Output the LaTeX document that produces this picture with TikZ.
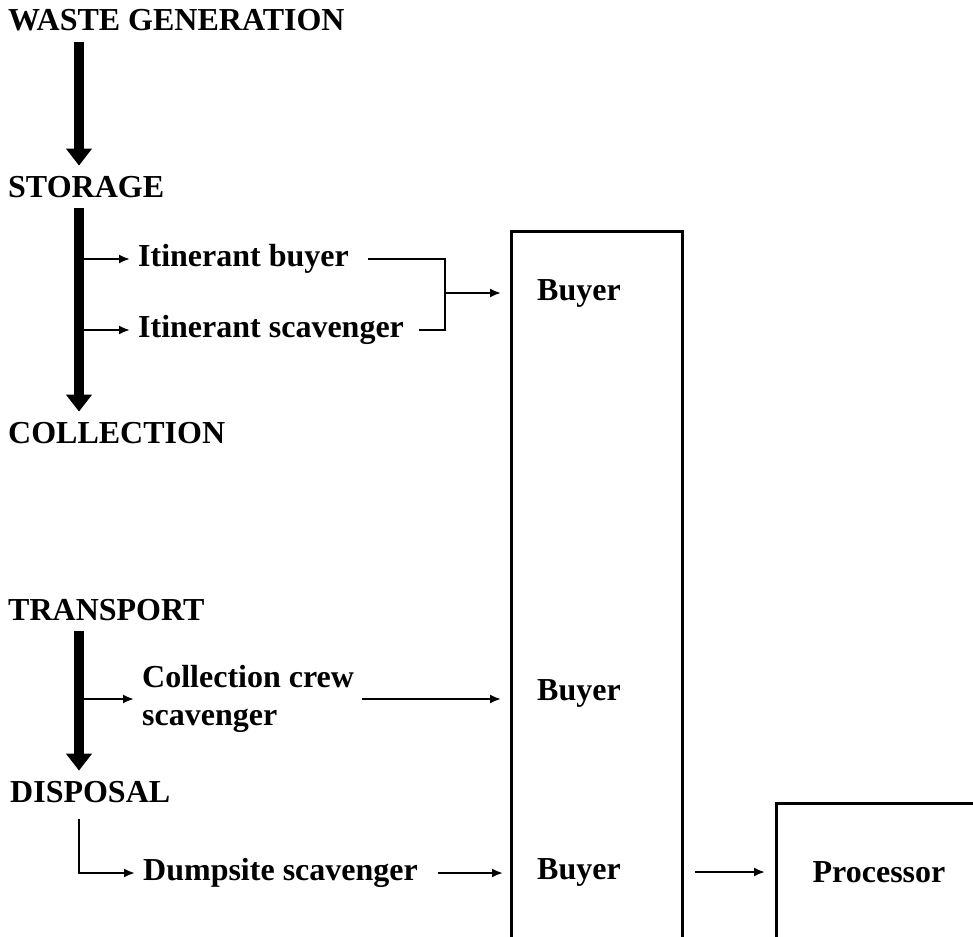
\documentclass[tikz,border=0pt]{standalone}
\usepackage{fontspec}
\setmainfont{Liberation Serif}
\usetikzlibrary{arrows.meta}

\begin{document}
\begin{tikzpicture}[x=1pt,y=-1pt,
  font=\fontsize{32}{38}\selectfont\bfseries,
  stage/.style={anchor=base west,inner xsep=0pt,inner ysep=10pt},
  actor/.style={anchor=west,inner sep=8pt,align=left},
  trunk/.style={line width=10.5pt,-{Triangle[length=17pt,width=25pt]}},
  feed/.style={line width=2pt,-{Latex[length=11pt,width=9pt]}},
  tie/.style={line width=2pt},
  pile/.style={draw,line width=2.6pt,inner sep=0pt,anchor=north west}]
  \clip (0,0) rectangle (973,936);
  \coordinate (spine) at (79,0);
  \node[stage] (gen) at (8,31) {WASTE GENERATION};
  \node[stage] (store) at (8,197) {STORAGE};
  \node[stage] (coll) at (8,443) {COLLECTION};
  \node[stage] (trans) at (8,620) {TRANSPORT};
  \node[stage] (disp) at (10,802) {DISPOSAL};
  \node[actor] (ib) at (130,259) {Itinerant buyer};
  \node[actor] (is) at (130,330) {Itinerant scavenger};
  \node[actor] (crew) at (134,699) {Collection crew\\scavenger};
  \node[actor] (dump) at (135,873) {Dumpsite scavenger};
  \node[pile,minimum width=171pt,minimum height=760pt] (pile) at (510,230) {};
  \node[pile,minimum width=260pt,minimum height=200pt] (proc) at (775,802) {};
  \node (buy1) at (579,293) {Buyer};
  \node (buy2) at (579,693) {Buyer};
  \node (buy3) at (579,872) {Buyer};
  \node (procname) at (879,872) {Processor};
  \draw[feed] (ib.west -| spine) -- (ib.west);
  \draw[feed] (is.west -| spine) -- (is.west);
  \draw[feed] (crew.west -| spine) -- (crew.west);
  \draw[feed,shorten <=6pt] (disp.south -| spine) |- (dump.west);
  \draw[trunk] (gen.south -| spine) -- (store.north -| spine);
  \draw[trunk] (store.south -| spine) -- (coll.north -| spine);
  \draw[trunk] (trans.south -| spine) -- (disp.north -| spine);
  \coordinate (join) at (445,293);
  \draw[tie] ([xshift=11pt]ib.east) -| (join) |- ([xshift=7pt]is.east);
  \draw[feed,shorten >=9pt] (join) -- (join -| pile.west);
  \draw[feed,shorten >=9pt] (crew.east) -- (crew.east -| pile.west);
  \draw[feed,shorten <=12pt,shorten >=7pt] (dump.east) -- (dump.east -| pile.west);
  \draw[feed,shorten <=11pt,shorten >=10pt] (buy3 -| pile.east) -- (buy3 -| proc.west);
\end{tikzpicture}
\end{document}
